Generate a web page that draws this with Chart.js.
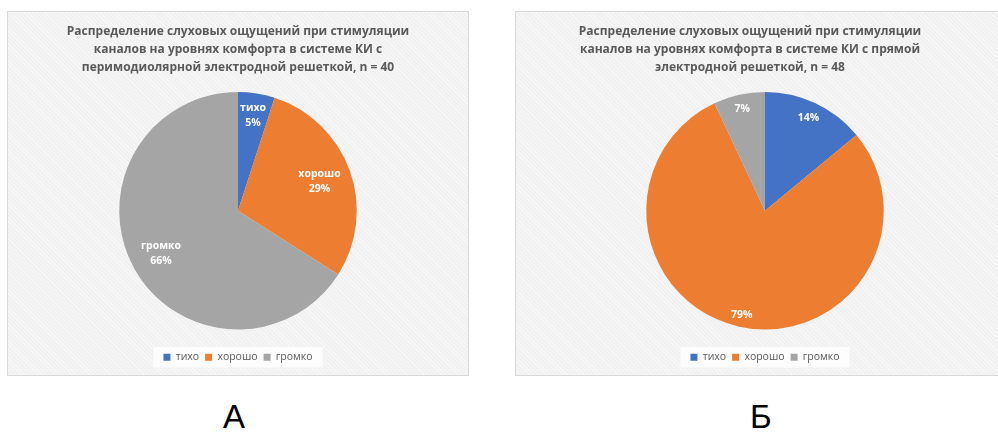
<!DOCTYPE html>
<html><head><meta charset="utf-8">
<script src="https://cdn.jsdelivr.net/npm/chart.js@4.4.1/dist/chart.umd.min.js"></script>
<style>
html,body{margin:0;padding:0;background:#fff;width:998px;height:434px;overflow:hidden;position:relative;font-family:"Liberation Sans",Arial,sans-serif;}
.panel{position:absolute;box-sizing:border-box;border:1px solid #d9d9d9;
 background:#f4f4f4 repeating-linear-gradient(45deg,#f7f7f7 0px,#f7f7f7 1px,#f1f1f1 1px,#f1f1f1 3px);}
.panel canvas{position:absolute;left:0;top:0;}
.cap{position:absolute;font-family:"Liberation Sans",Arial,sans-serif;font-size:33px;color:#000;line-height:1;}
</style></head>
<body>
<div class="panel" id="pA" style="left:7px;top:11px;width:462px;height:365px;"><canvas id="cA"></canvas></div>
<div class="panel" id="pB" style="left:515px;top:11px;width:500px;height:365px;"><canvas id="cB"></canvas></div>
<div class="cap" style="left:223px;top:400px;">А</div>
<div class="cap" style="left:750px;top:400px;">Б</div>
<script>
const categories = ['тихо', 'хорошо', 'громко'];
const valuesA = [5, 29, 66];
const valuesB = [14, 79, 7];
const titleA = ['Распределение слуховых ощущений при стимуляции', 'каналов на уровнях комфорта в системе КИ с', 'перимодиолярной электродной решеткой, n = 40'];
const titleB = ['Распределение слуховых ощущений при стимуляции', 'каналов на уровнях комфорта в системе КИ с прямой', 'электродной решеткой, n = 48'];
const colors = ['#4472C4', '#ED7D31', '#A5A5A5'];

const sliceLabels = {
  id: 'sliceLabels',
  afterDatasetsDraw(chart, args, opts) {
    const ctx = chart.ctx;
    const meta = chart.getDatasetMeta(0);
    const data = chart.data.datasets[0].data;
    ctx.save();
    ctx.fillStyle = '#ffffff';
    ctx.font = 'bold 10.5px "Open Sans", sans-serif';
    ctx.textAlign = 'center';
    ctx.textBaseline = 'middle';
    meta.data.forEach((arc, i) => {
      const p = arc.getProps(['x', 'y', 'startAngle', 'endAngle', 'outerRadius'], true);
      const mid = (p.startAngle + p.endAngle) / 2;
      const r = p.outerRadius * opts.frac[i];
      const cx = p.x + Math.cos(mid) * r;
      const cy = p.y + Math.sin(mid) * r;
      const lines = opts.showName[i] ? [chart.data.labels[i], data[i] + '%'] : [data[i] + '%'];
      const lh = 15;
      lines.forEach((t, k) => {
        ctx.fillText(t, cx, cy + (k - (lines.length - 1) / 2) * lh);
      });
    });
    ctx.restore();
  }
};

const tweaks = {
  id: 'tweaks',
  afterLayout(chart, args, opts) {
    const t = chart.titleBlock;
    if (t && opts.titleShift) { t.left += opts.titleShift; t.right += opts.titleShift; }
  },
  beforeDraw(chart) {
    const lg = chart.legend;
    if (!lg || !lg.legendHitBoxes || !lg.legendHitBoxes.length) return;
    const hb = lg.legendHitBoxes;
    let x0 = Infinity, x1 = -Infinity, y0 = Infinity, y1 = -Infinity;
    hb.forEach(h => { x0 = Math.min(x0, h.left); x1 = Math.max(x1, h.left + h.width); y0 = Math.min(y0, h.top); y1 = Math.max(y1, h.top + h.height); });
    const ctx = chart.ctx;
    ctx.save();
    ctx.fillStyle = 'rgba(255,255,255,0.75)';
    ctx.fillRect(x0 - 10, y0 - 5, x1 - x0 + 20, y1 - y0 + 10);
    ctx.restore();
  }
};

function makeChart(id, w, h, values, title, frac, showName, titleShift) {
  const cv = document.getElementById(id);
  cv.style.width = w + 'px'; cv.style.height = h + 'px';
  return new Chart(cv, {
    type: 'pie',
    data: {
      labels: categories,
      datasets: [{ data: values, backgroundColor: colors, borderWidth: 0 }]
    },
    options: {
      responsive: false,
      maintainAspectRatio: false,
      animation: false,
      events: [],
      layout: { padding: { top: 0, bottom: 2.5, left: 0, right: 0 } },
      plugins: {
        tooltip: { enabled: false },
        title: {
          display: true,
          text: title,
          color: '#595959',
          font: { family: '"Open Sans", sans-serif', size: 12, weight: 'bold', lineHeight: '18px' },
          padding: { top: 11, bottom: 15 }
        },
        legend: {
          display: true,
          position: 'bottom',
          title: { display: true, text: ' ', font: { size: 10, lineHeight: '16.5px' }, padding: 0 },
          labels: {
            boxWidth: 7, boxHeight: 7, padding: 6,
            color: '#595959',
            font: { family: '"Open Sans", sans-serif', size: 10.5 }
          }
        },
        sliceLabels: { frac: frac, showName: showName },
        tweaks: { titleShift: titleShift }
      }
    },
    plugins: [sliceLabels, tweaks]
  });
}

function sizeCanvas(id, w, h) {
  const cv = document.getElementById(id);
  cv.width = w; cv.height = h;
}
sizeCanvas('cA', 460, 363);
sizeCanvas('cB', 498, 363);
makeChart('cA', 460, 363, valuesA, titleA, [0.81, 0.73, 0.74], [true, true, true], 0);
makeChart('cB', 498, 363, valuesB, titleB, [0.86, 0.9, 0.875], [false, false, false], -15);
</script>
</body></html>
